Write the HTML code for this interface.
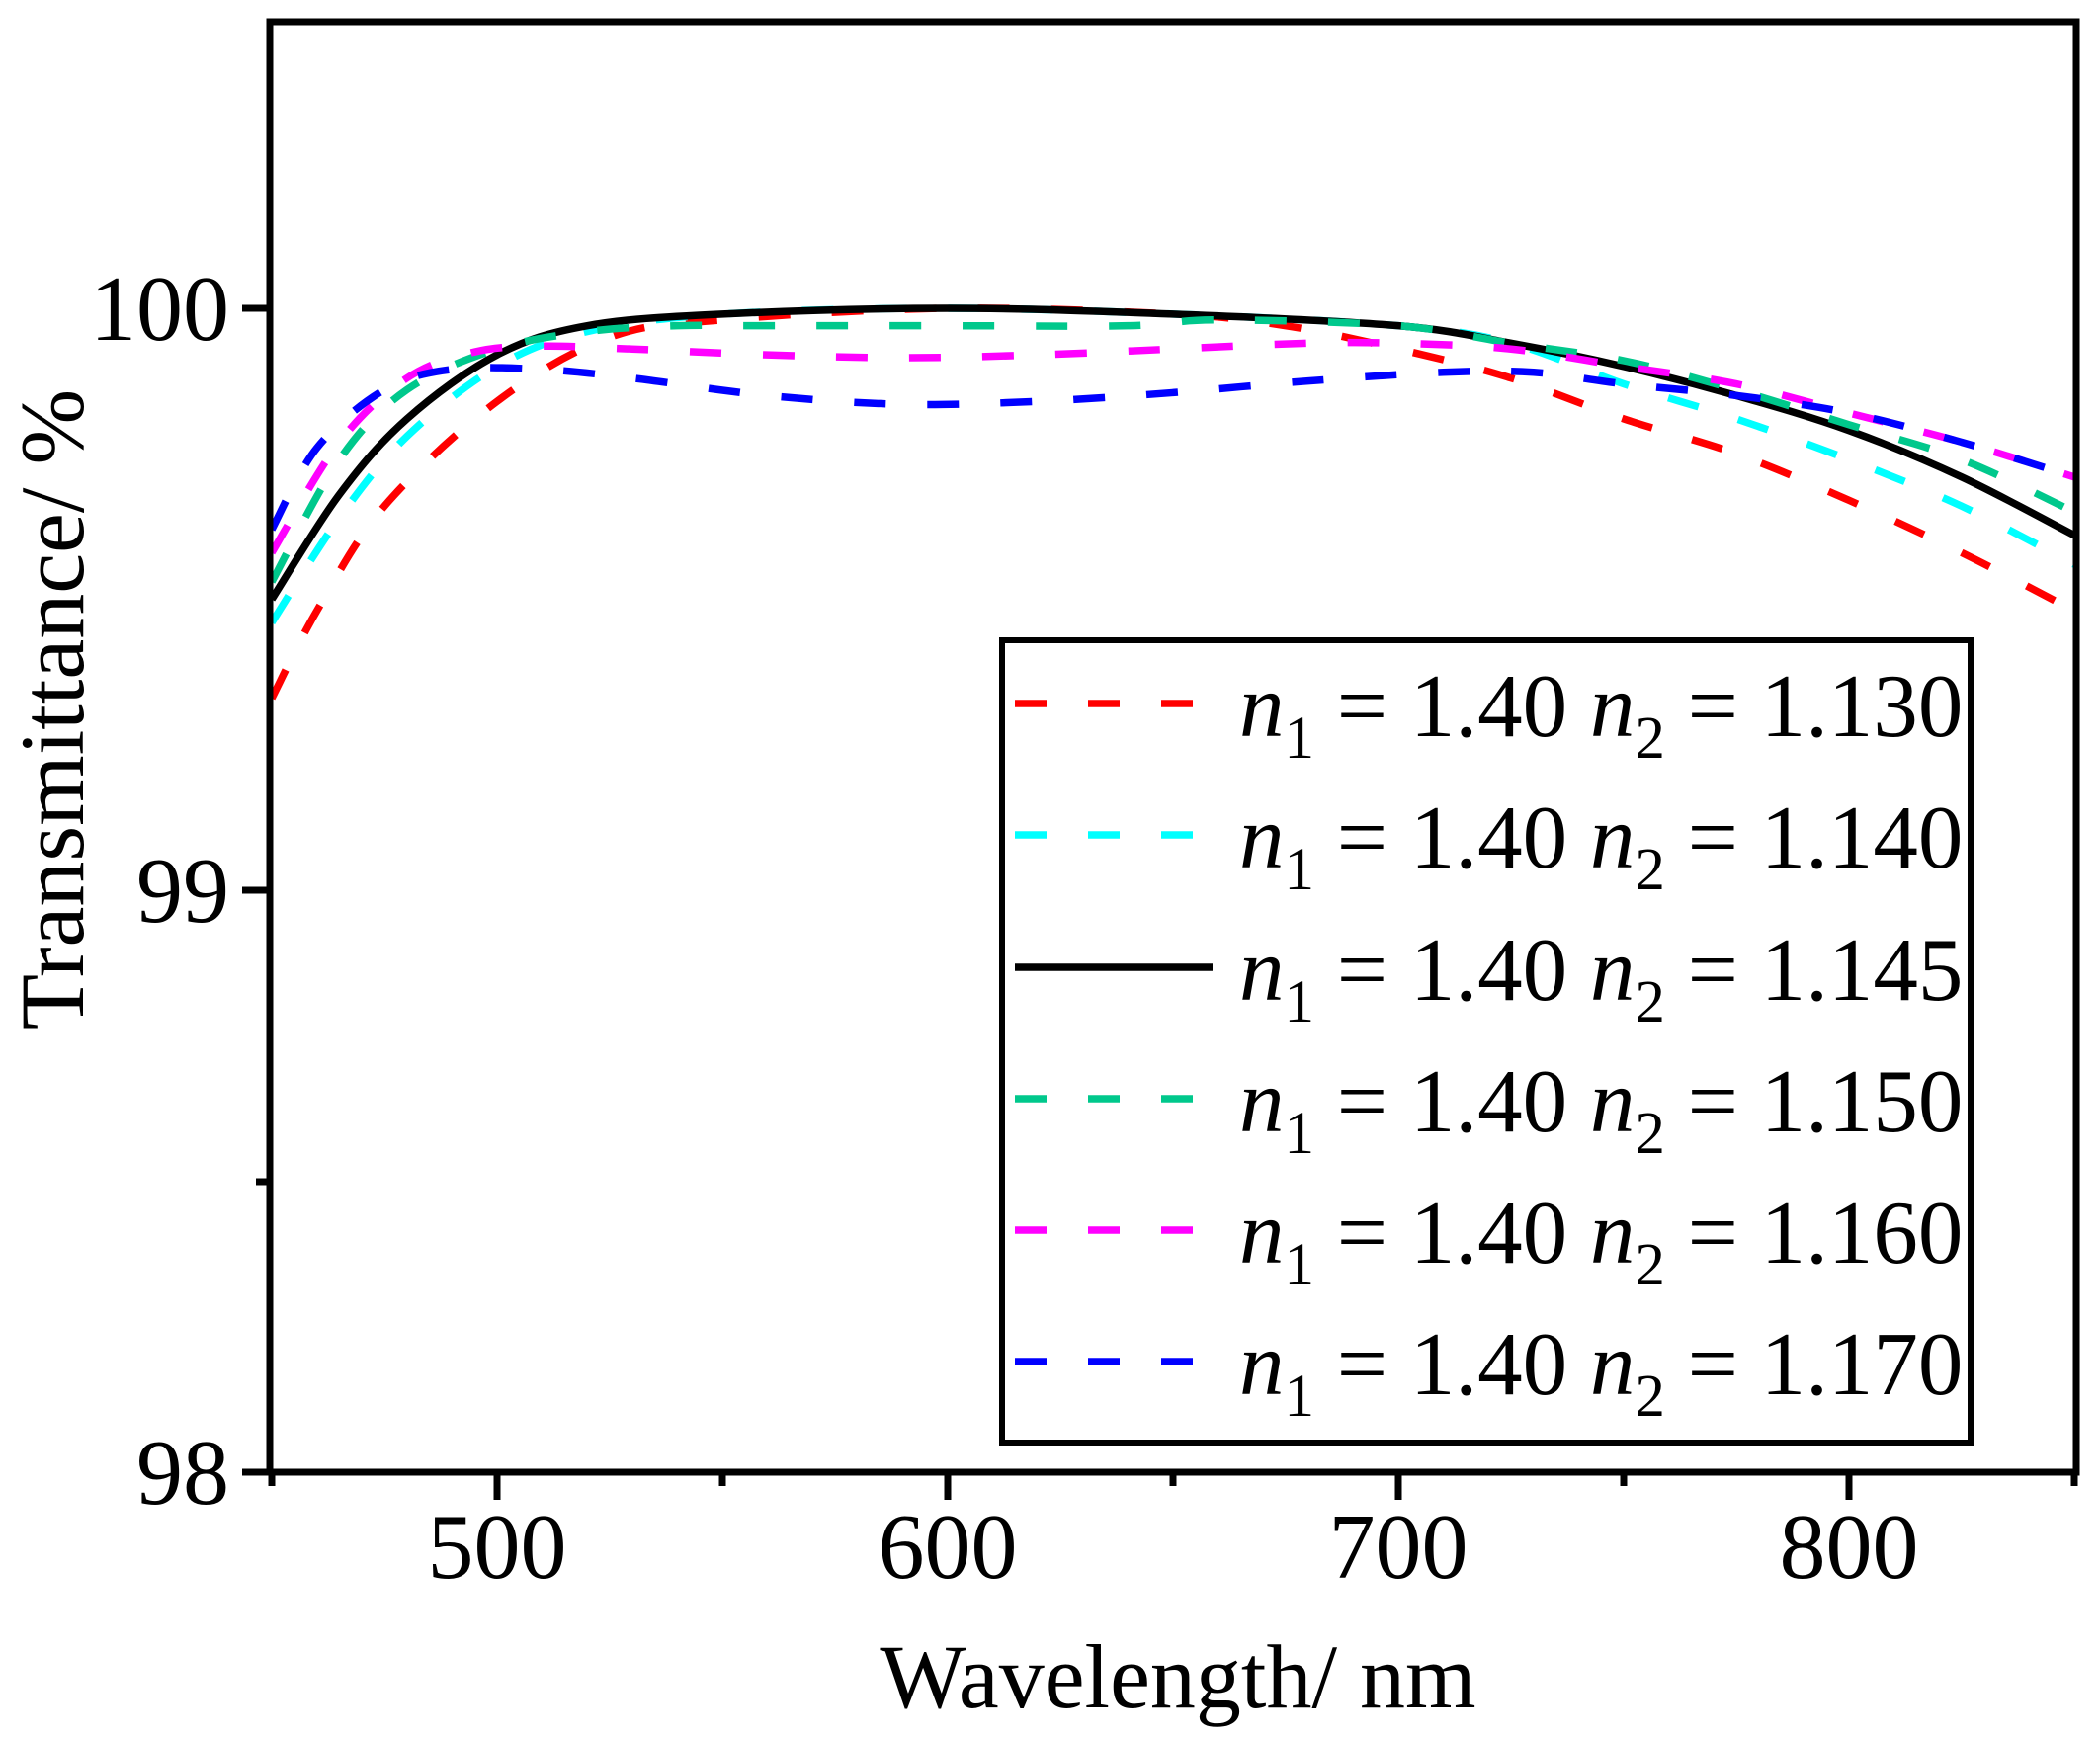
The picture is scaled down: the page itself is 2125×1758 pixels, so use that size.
<!DOCTYPE html>
<html><head><meta charset="utf-8"><style>
html,body{margin:0;padding:0;background:#fff;}
svg{display:block;font-family:"Liberation Serif",serif;}
</style></head><body>
<svg id="s" width="2125" height="1758" viewBox="0 0 2125 1758" xmlns="http://www.w3.org/2000/svg">
<defs><clipPath id="c"><rect x="273" y="22" width="1828" height="1468"/></clipPath></defs>
<g id="curves" clip-path="url(#c)" fill="none" stroke-width="7.5"></g>
<rect x="273" y="22" width="1828" height="1468" fill="none" stroke="#000" stroke-width="7"/>
<g stroke="#000" stroke-width="7">
<line x1="275" y1="1490" x2="275" y2="1504"/><line x1="503" y1="1490" x2="503" y2="1518"/>
<line x1="731" y1="1490" x2="731" y2="1504"/><line x1="959" y1="1490" x2="959" y2="1518"/>
<line x1="1187" y1="1490" x2="1187" y2="1504"/><line x1="1415" y1="1490" x2="1415" y2="1518"/>
<line x1="1643" y1="1490" x2="1643" y2="1504"/><line x1="1871" y1="1490" x2="1871" y2="1518"/>
<line x1="2099" y1="1490" x2="2099" y2="1504"/>
<line x1="273" y1="1490" x2="245" y2="1490"/><line x1="273" y1="1196" x2="259" y2="1196"/>
<line x1="273" y1="901" x2="245" y2="901"/><line x1="273" y1="312" x2="245" y2="312"/>
</g>
<g font-size="94" text-anchor="middle" fill="#000">
<text x="503" y="1597">500</text><text x="959" y="1597">600</text>
<text x="1415" y="1597">700</text><text x="1871" y="1597">800</text>
</g>
<g font-size="94" text-anchor="end" fill="#000">
<text x="232" y="1522">98</text><text x="232" y="933">99</text><text x="232" y="344">100</text>
</g>
<text x="1192" y="1728" font-size="92" text-anchor="middle">Wavelength/ nm</text>
<text transform="translate(84,718) rotate(-90)" font-size="92" text-anchor="middle">Transmittance/ %</text>
<rect x="1014" y="648" width="980" height="812" fill="#fff" stroke="#000" stroke-width="6"/>
<g id="leg"></g>
</svg>
<script>
var X=l=>275+(l-450)*4.56, Y=t=>312+(100-t)*589;
var S=[
["#ff0000",true,"1.130",[[450,99.33],[460,99.48],[475,99.66],[500,99.84],[525,99.95],[550,99.98],[600,100],[650,99.99],[675,99.97],[700,99.93],[725,99.88],[750,99.81],[775,99.75],[800,99.67],[825,99.58],[850,99.48]]],
["#00ffff",true,"1.140",[[450,99.46],[465,99.64],[480,99.78],[500,99.90],[520,99.96],[550,99.99],[600,100],[650,99.99],[700,99.97],[725,99.94],[750,99.87],[775,99.81],[800,99.74],[825,99.66],[850,99.56]]],
["#000000",false,"1.145",[[450,99.50],[465,99.68],[480,99.81],[500,99.92],[520,99.97],[550,99.99],[600,100],[650,99.99],[700,99.97],[725,99.94],[750,99.90],[775,99.85],[800,99.79],[825,99.71],[850,99.61]]],
["#00c88c",true,"1.150",[[450,99.53],[465,99.74],[480,99.86],[500,99.93],[520,99.96],[540,99.97],[560,99.97],[600,99.97],[640,99.97],[660,99.98],[700,99.97],[725,99.94],[750,99.91],[775,99.86],[800,99.80],[825,99.74],[850,99.65]]],
["#ff00ff",true,"1.160",[[450,99.58],[465,99.77],[480,99.88],[495,99.925],[510,99.935],[530,99.93],[560,99.92],[590,99.915],[620,99.92],[650,99.93],[680,99.94],[700,99.94],[725,99.93],[750,99.90],[775,99.87],[800,99.82],[825,99.77],[850,99.71]]],
["#0000ff",true,"1.170",[[450,99.62],[460,99.76],[475,99.86],[490,99.895],[510,99.895],[530,99.88],[560,99.85],[590,99.835],[620,99.84],[650,99.855],[680,99.875],[710,99.89],[730,99.89],[750,99.87],[775,99.85],[800,99.82],[825,99.77],[850,99.71]]]
];
var g=document.getElementById('curves'),L=document.getElementById('leg'),ns="http://www.w3.org/2000/svg";
var ly=[712,845,979,1112,1245,1378];
S.forEach(function(s,i){
 var p=s[3].map(a=>[X(a[0]),Y(a[1])]),d="M"+p[0][0]+","+p[0][1];
 for(var k=0;k<p.length-1;k++){var p0=p[k-1]||p[k],p1=p[k],p2=p[k+1],p3=p[k+2]||p2;
  d+=" C"+(p1[0]+(p2[0]-p0[0])/6)+","+(p1[1]+(p2[1]-p0[1])/6)+" "+(p2[0]-(p3[0]-p1[0])/6)+","+(p2[1]-(p3[1]-p1[1])/6)+" "+p2[0]+","+p2[1];}
 var e=document.createElementNS(ns,"path");e.setAttribute("d",d);e.setAttribute("stroke",s[0]);
 if(s[1])e.setAttribute("stroke-dasharray","32,42");g.appendChild(e);
 var l=document.createElementNS(ns,"line");l.setAttribute("x1",1027);l.setAttribute("x2",s[1]?1215:1227);
 l.setAttribute("y1",ly[i]);l.setAttribute("y2",ly[i]);l.setAttribute("stroke",s[0]);l.setAttribute("stroke-width",7.5);
 if(s[1])l.setAttribute("stroke-dasharray","32,42");L.appendChild(l);
 var t=document.createElementNS(ns,"text");t.setAttribute("x",1254);t.setAttribute("y",ly[i]+33);t.setAttribute("font-size","91");
 t.innerHTML='<tspan font-style="italic">n</tspan><tspan font-size="61" dy="22">1</tspan><tspan dy="-22"> = 1.40 </tspan><tspan font-style="italic">n</tspan><tspan font-size="61" dy="22">2</tspan><tspan dy="-22"> = '+s[2]+'</tspan>';
 L.appendChild(t);
});
</script>
</body></html>
